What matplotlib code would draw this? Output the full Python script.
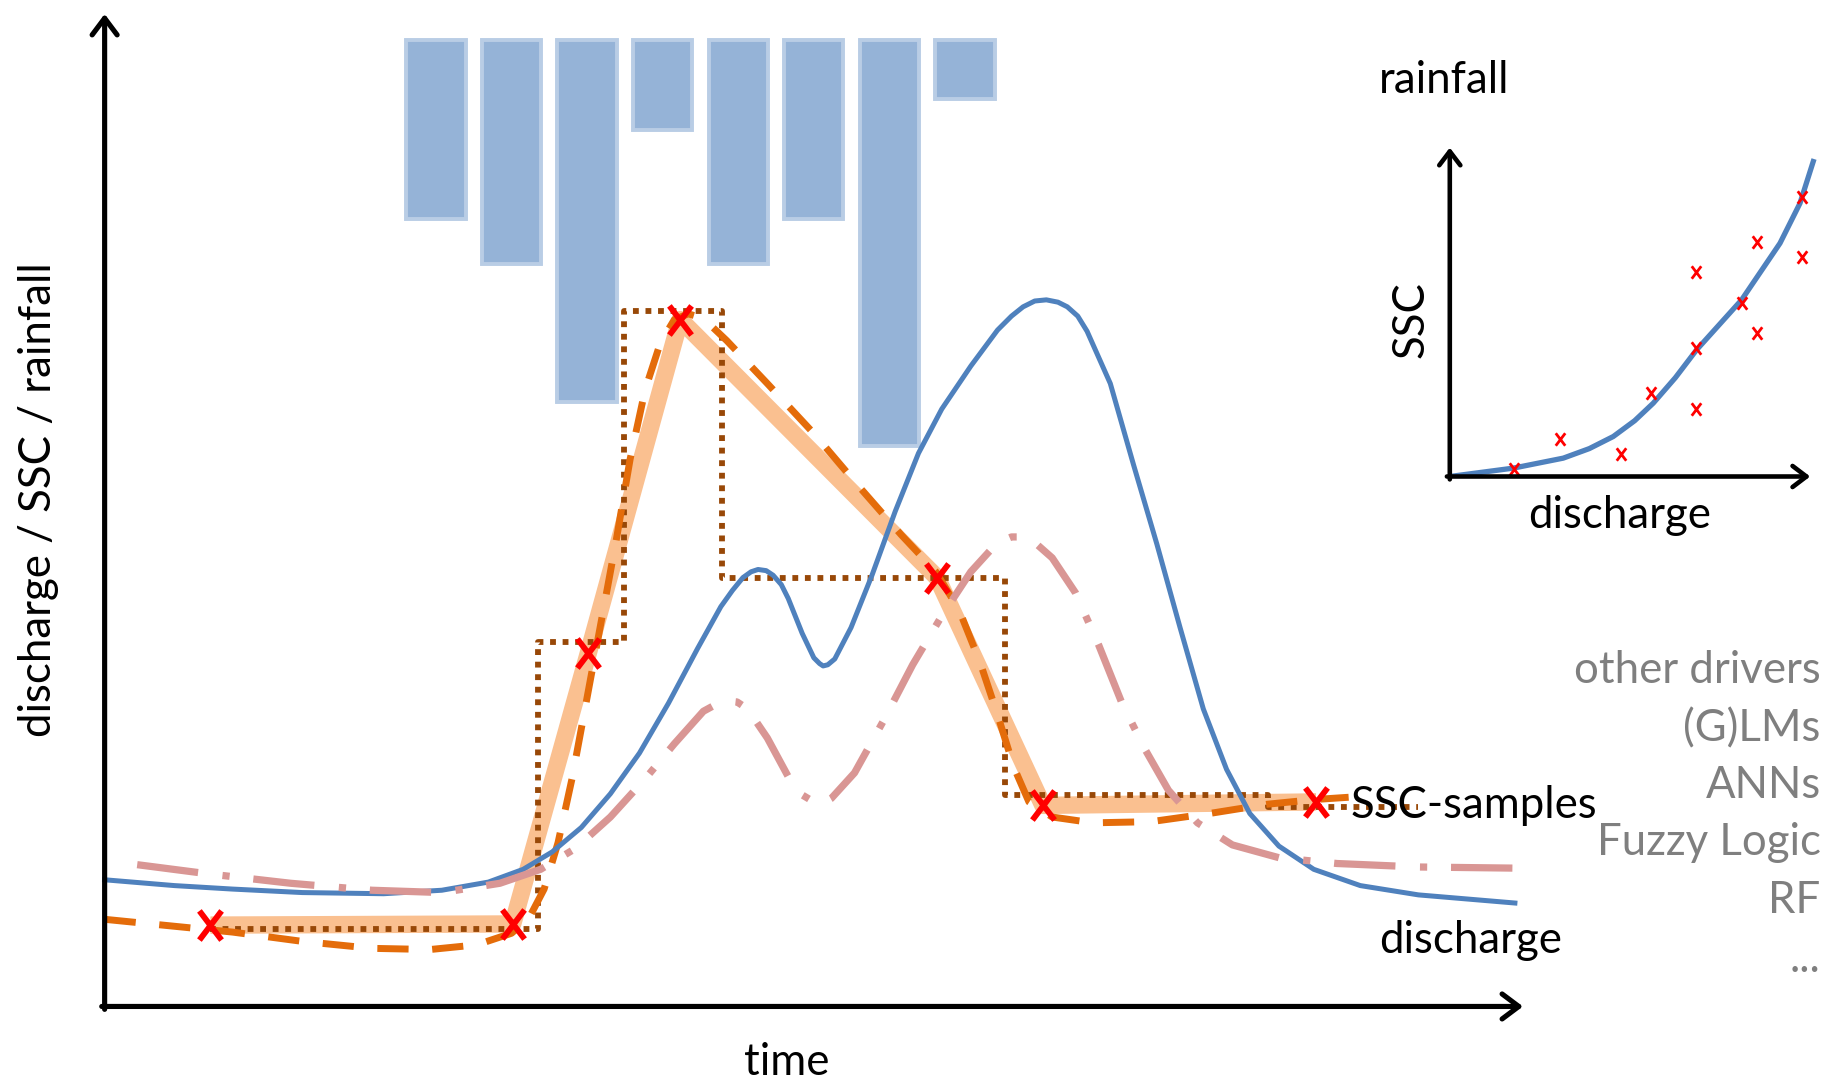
import numpy as np
import matplotlib.pyplot as plt
from matplotlib.path import Path

plt.rcParams['font.family'] = ['Lato', 'DejaVu Sans']

# --- main sketch: time vs. value (arbitrary units) ---
discharge_t = [0, 6, 11, 17, 24, 29, 33, 36, 38.5, 41, 43.5, 46, 48.5, 51, 53, 54, 54.9, 55.6,
               56.2, 56.9, 57.5, 58.2, 58.8, 60, 61, 61.5, 61.8, 62.2, 62.8, 64.2, 66, 68, 70,
               72, 74.5, 76.8, 78, 79, 80, 81, 82, 82.8, 83.7, 84.5, 86.5, 88.5, 90.5, 92.5,
               94.5, 96.5, 98.5, 101, 104, 108, 113, 121.3]
discharge_v = [10.9, 10.4, 10.1, 9.8, 9.7, 10.0, 10.7, 11.8, 13.3, 15.4, 18.3, 21.8, 26.1, 30.8,
               34.4, 35.8, 36.9, 37.4, 37.6, 37.5, 37.1, 36.3, 35.1, 32.1, 30.0, 29.5, 29.3,
               29.4, 29.9, 32.6, 37.1, 42.6, 47.6, 51.4, 55.1, 58.2, 59.4, 60.2, 60.7, 60.8,
               60.6, 60.2, 59.4, 58.1, 53.6, 46.6, 39.8, 32.6, 25.6, 20.4, 16.6, 13.8, 11.8,
               10.4, 9.6, 8.9]

driver_t = [2.8, 9, 16, 23, 29, 34, 37.5, 40.5, 43.5, 46.5, 49, 51.5, 52.6, 53.5, 54.4, 55.3,
            57, 59, 60, 61, 61.8, 62.5, 64.5, 67, 69.5, 72, 74.5, 76.5, 77.3, 78, 78.9, 79.8,
            81.5, 83.5, 85.5, 87.5, 89.5, 91.5, 94, 97, 101, 106, 113, 121.5]
driver_v = [12.2, 11.4, 10.6, 10.0, 9.8, 10.6, 11.8, 13.6, 16.3, 19.6, 22.6, 25.4, 26.0, 26.3,
            26.2, 25.6, 23.1, 19.4, 18.2, 17.6, 17.5, 17.9, 20.1, 24.6, 29.4, 33.6, 37.4, 39.6,
            40.1, 40.4, 40.4, 40.1, 38.6, 35.6, 31.1, 26.1, 22.1, 18.6, 15.8, 13.9, 12.8, 12.3,
            12.0, 11.9]

model_t = [0, 5, 11, 17, 23, 28, 32, 35, 36.5, 37.8, 39, 40.2, 41.5, 42.8, 44, 45.2, 46.5, 47.8,
           49, 50.2, 51.5, 53.5, 57, 61, 65, 68.5, 71.5, 73.5, 75.3, 76.8, 78.2, 79.5, 81.5,
           85, 90, 95, 100, 104, 107]
model_v = [7.5, 7.0, 6.4, 5.6, 5.0, 4.9, 5.3, 6.3, 7.6, 10.1, 14.1, 19.6, 26.6, 33.6, 40.1, 47.1,
           53.1, 57.1, 59.1, 59.6, 59.2, 57.3, 53.6, 49.3, 44.6, 40.6, 37.4, 34.1, 29.6, 25.1,
           20.6, 17.6, 16.3, 15.8, 15.9, 16.6, 17.4, 17.8, 18.0]

sample_t = [9.1, 35.1, 41.6, 49.5, 71.6, 80.7, 104.2]
sample_v = [7.0, 7.1, 30.4, 59.1, 36.9, 17.3, 17.6]

step_t = [9.1, 37.3, 44.7, 53.1, 77.4, 100.1, 113]
step_v = [6.7, 31.4, 59.8, 36.9, 18.2, 17.2, 17.2]

rain_t = [28.5, 35, 41.5, 48, 54.5, 61, 67.5, 74]
rain_depth = [15.4, 19.3, 31.1, 7.7, 19.3, 15.4, 34.9, 5.1]
rain_top = 83.15

# --- inset: SSC vs discharge ---
rating_q = [0, 5.46, 9.76, 12, 14.06, 15.9, 17.5, 19.4, 21.23, 25.1, 28.4, 30.12, 31.26]
rating_c = [0, 0.72, 1.58, 2.4, 3.44, 4.8, 6.31, 8.5, 10.9, 15.2, 20.07, 23.51, 27.1]
obs_q = [5.55, 9.48, 14.7, 17.28, 21.18, 21.18, 21.18, 25.1, 26.4, 26.4, 30.32, 30.32]
obs_c = [0.66, 3.24, 1.95, 7.22, 5.8, 11.04, 17.58, 14.97, 12.33, 20.16, 18.92, 24.08]

methods = ['other drivers', '(G)LMs', 'ANNs', 'Fuzzy Logic', 'RF', '...']

# tall "X" shaped marker, like the letter used in the sketch
x_mark = Path([(-0.38, -0.5), (0.38, 0.5), (-0.38, 0.5), (0.38, -0.5)],
              [Path.MOVETO, Path.LINETO, Path.MOVETO, Path.LINETO])

fig = plt.figure(figsize=(18.23, 10.82), dpi=100)
ax = fig.add_axes([0, 0, 1, 1])
ax.set_xlim(-9, 147.8)
ax.set_ylim(-6.5, 86.6)
ax.axis('off')

fs = 31.5

# rainfall bars hanging from the top
ax.bar(rain_t, [-d for d in rain_depth], bottom=rain_top, width=5.1,
       color='#95b3d7', edgecolor='#b9cde5', linewidth=2.8, zorder=1)

ax.plot(sample_t, sample_v, color='#fac090', lw=12.5, solid_capstyle='butt',
        solid_joinstyle='round', zorder=2)
ax.plot(step_t, step_v, drawstyle='steps-post', color='#984807', lw=4.2,
        dashes=(1, 1.15), dash_capstyle='butt', zorder=3)
ax.plot(model_t, model_v, color='#e46c0a', lw=5.0, dashes=(4.5, 3.4), zorder=4)
ax.plot(discharge_t, discharge_v, color='#4f81bd', lw=3.6, solid_joinstyle='round', zorder=5)
ax.plot(driver_t, driver_v, color='#d99694', lw=5.2, dashes=(8.5, 3.4, 1, 3.3), zorder=6)
ax.plot(sample_t, sample_v, linestyle='none', marker=x_mark, color='#ff0000',
        ms=21, mew=4.2, zorder=8)

# axes with arrows
arr = dict(arrowstyle='->,head_length=0.6,head_width=0.45', lw=3.7, color='black',
           shrinkA=0, shrinkB=0, mutation_scale=20)
ax.annotate('', xy=(0, 85.4), xytext=(0, -0.25), arrowprops=arr, zorder=9)
ax.annotate('', xy=(122, 0), xytext=(-0.25, 0), arrowprops=arr, zorder=9)

ax.text(58.7, -5.9, 'time', fontsize=fs, ha='center', va='baseline')
ax.text(-5.7, 43.6, 'discharge / SSC / rainfall', fontsize=fs, rotation=90,
        ha='center', va='center')
ax.text(109.6, 78.6, 'rainfall', fontsize=fs, ha='left', va='baseline')
ax.text(107.2, 16.2, 'SSC-samples', fontsize=fs, ha='left', va='baseline', zorder=10)
ax.text(109.6, 4.6, 'discharge', fontsize=fs, ha='left', va='baseline')

method_v = [27.8, 22.8, 17.9, 13.0, 8.0, 3.0]
for name, v in zip(methods, method_v):
    ax.text(147.6, v, name, fontsize=fs, color='#7f7f7f', ha='right', va='baseline')

# inset rating curve
ins = fig.add_axes([1247 / 1568, 1 - 410 / 931, 320 / 1568, 290 / 931])
ins.set_xlim(0, 32)
ins.set_ylim(0, 29)
ins.axis('off')
ins.plot(rating_q, rating_c, color='#4f81bd', lw=3.8, solid_joinstyle='round', zorder=3)
ins.plot(obs_q, obs_c, linestyle='none', marker=x_mark, color='#ff0000',
         ms=9, mew=2.0, zorder=4)
arr2 = dict(arrowstyle='->,head_length=0.5,head_width=0.38', lw=3.3, color='black',
            shrinkA=0, shrinkB=0, mutation_scale=20)
ins.annotate('', xy=(0, 28.3), xytext=(0, -0.25), arrowprops=arr2, zorder=5)
ins.annotate('', xy=(31, 0), xytext=(-0.25, 0), arrowprops=arr2, zorder=5)
ins.text(14.6, -4.4, 'discharge', fontsize=fs, ha='center', va='baseline')
ins.text(-3.3, 13.5, 'SSC', fontsize=fs, rotation=90, ha='center', va='center')

fig.savefig('out.png', dpi=100)
